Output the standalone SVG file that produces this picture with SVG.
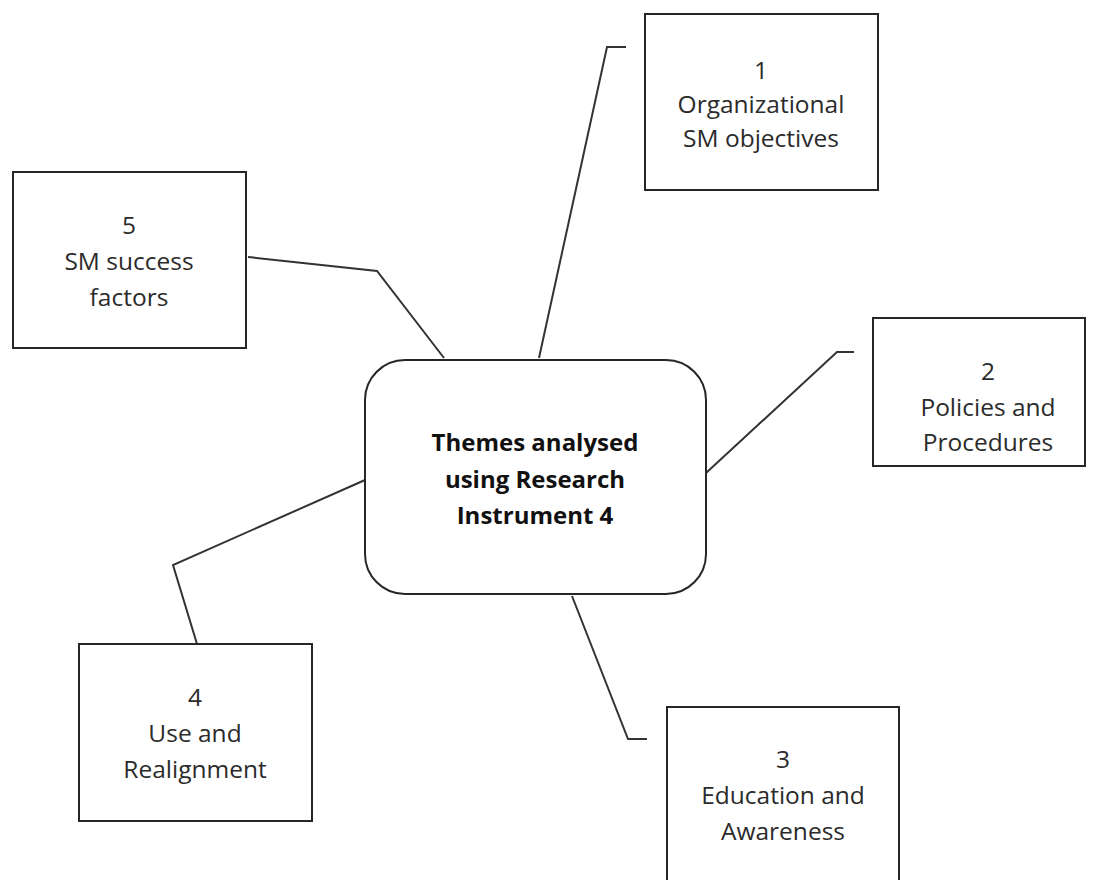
<svg xmlns="http://www.w3.org/2000/svg" width="1101" height="880" viewBox="0 0 1101 880">
  <style>
    .box { fill: #ffffff; stroke: #262626; stroke-width: 2; }
    .link { fill: none; stroke: #333333; stroke-width: 2; stroke-linejoin: miter; }
    .lbl { font-family: "Open Sans", "Liberation Sans", sans-serif; font-size: 24.5px; fill: #2b2b2b; text-anchor: middle; }
    .hub { font-family: "Open Sans", "Liberation Sans", sans-serif; font-size: 24px; font-weight: bold; fill: #111111; text-anchor: middle; }
  </style>
  <rect width="1101" height="880" fill="#ffffff"/>

  <!-- connectors from the central theme box to each numbered theme -->
  <g id="connectors">
    <polyline class="link" points="539,358 607,47 626,47"/>
    <polyline class="link" points="706,473 837,352 854,352"/>
    <polyline class="link" points="572,596 628,739 647,739"/>
    <polyline class="link" points="197,644 173,565 365,480"/>
    <polyline class="link" points="248,257 377,271 444,358"/>
  </g>

  <g id="hub">
    <rect class="box" x="365" y="360" width="341" height="234" rx="40" ry="40"/>
    <text class="hub" x="535" y="451">Themes analysed</text>
    <text class="hub" x="535" y="488">using Research</text>
    <text class="hub" x="535" y="524">Instrument 4</text>
  </g>

  <g id="theme1">
    <rect class="box" x="645" y="14" width="233" height="176"/>
    <text class="lbl" x="761" y="79">1</text>
    <text class="lbl" x="761" y="113">Organizational</text>
    <text class="lbl" x="761" y="147">SM objectives</text>
  </g>

  <g id="theme2">
    <rect class="box" x="873" y="318" width="212" height="148"/>
    <text class="lbl" x="988" y="380">2</text>
    <text class="lbl" x="988" y="416">Policies and</text>
    <text class="lbl" x="988" y="451">Procedures</text>
  </g>

  <g id="theme3">
    <rect class="box" x="667" y="707" width="232" height="190"/>
    <text class="lbl" x="783" y="768">3</text>
    <text class="lbl" x="783" y="804">Education and</text>
    <text class="lbl" x="783" y="840">Awareness</text>
  </g>

  <g id="theme4">
    <rect class="box" x="79" y="644" width="233" height="177"/>
    <text class="lbl" x="195" y="706">4</text>
    <text class="lbl" x="195" y="742">Use and</text>
    <text class="lbl" x="195" y="778">Realignment</text>
  </g>

  <g id="theme5">
    <rect class="box" x="13" y="172" width="233" height="176"/>
    <text class="lbl" x="129" y="234">5</text>
    <text class="lbl" x="129" y="270">SM success</text>
    <text class="lbl" x="129" y="306">factors</text>
  </g>
</svg>
